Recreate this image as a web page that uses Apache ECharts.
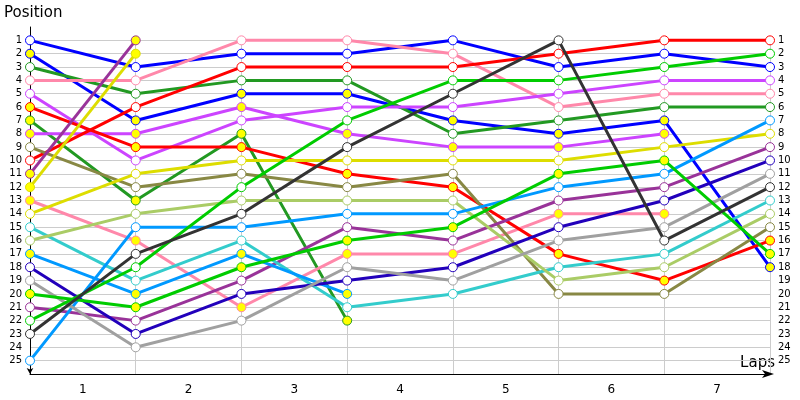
<!DOCTYPE html>
<html><head><meta charset="utf-8">
<script src="https://cdn.jsdelivr.net/npm/echarts@6/dist/echarts.min.js"></script>
<style>html,body{margin:0;padding:0;background:#fff}#c{width:800px;height:400px}</style>
</head><body><div id="c"></div>
<script>
// x positions (lap numbers) and tick labels
const laps = [0, 1, 2, 3, 4, 5, 6, 7];
const lapLabels = ['1', '2', '3', '4', '5', '6', '7'];
const positionLabels = ['1','2','3','4','5','6','7','8','9','10','11','12','13','14','15','16','17','18','19','20','21','22','23','24','25'];

// race position of each car at laps 0..7 (shorter arrays = retired)
const blueA      = [1, 3, 2, 2, 1, 3, 2, 3];
const blueB      = [2, 7, 5, 5, 7, 8, 7, 18];
const forestA    = [3, 5, 4, 4, 8, 7, 6, 6];
const forestB    = [7, 13, 8, 22];
const pinkA      = [4, 4, 1, 1, 2, 6, 5, 5];
const pinkB      = [13, 16, 21, 17, 17, 14, 14];
const violetA    = [5, 10, 7, 6, 6, 5, 4, 4];
const violetB    = [8, 8, 6, 8, 9, 9, 8];
const redA       = [10, 6, 3, 3, 3, 2, 1, 1];
const redB       = [6, 9, 9, 11, 12, 17, 19, 16];
const oliveA     = [9, 12, 11, 12, 11, 20, 20, 15];
const purpleB    = [11, 1];
const yellowB    = [12, 2];
const yellowA    = [14, 11, 10, 10, 10, 10, 9, 8];
const turquoiseA = [15, 19, 16, 21, 20, 18, 17, 13];
const limeA      = [16, 14, 13, 13, 13, 19, 18, 14];
const skyB       = [17, 20, 17, 20];
const skyA       = [25, 15, 15, 14, 14, 12, 11, 7];
const navyA      = [18, 23, 20, 19, 18, 15, 13, 10];
const greyA      = [19, 24, 22, 18, 19, 16, 15, 11];
const greenB     = [20, 21, 18, 16, 15, 11, 10, 17];
const greenA     = [22, 18, 12, 7, 4, 4, 3, 2];
const purpleA    = [21, 22, 19, 15, 16, 13, 12, 9];
const charcoalA  = [23, 17, 14, 9, 5, 1, 16, 12];

const WHITE = '#ffffff', YEL = '#ffff00';
const cars = [
  [blueA, '#0000ff', WHITE], [blueB, '#0000ff', YEL],
  [forestA, '#229922', WHITE], [forestB, '#229922', YEL],
  [pinkA, '#ff88aa', WHITE], [pinkB, '#ff88aa', YEL],
  [violetA, '#cc44ff', WHITE], [violetB, '#cc44ff', YEL],
  [redA, '#ff0000', WHITE], [redB, '#ff0000', YEL],
  [oliveA, '#888844', WHITE],
  [purpleB, '#993399', YEL], [purpleA, '#993399', WHITE],
  [yellowB, '#dddd00', YEL], [yellowA, '#dddd00', WHITE],
  [turquoiseA, '#33cccc', WHITE], [limeA, '#aacc66', WHITE],
  [skyB, '#0099ff', YEL], [skyA, '#0099ff', WHITE],
  [navyA, '#2200bb', WHITE], [greyA, '#a0a0a0', WHITE],
  [greenB, '#00cc00', YEL], [greenA, '#00cc00', WHITE],
  [charcoalA, '#333333', WHITE]
];

const yCats = [''].concat(positionLabels, ['']);
const FONT = 'DejaVu Sans';

const series = cars.map(([arr, col, fill]) => ({
  type: 'line',
  xAxisIndex: 0, yAxisIndex: 0,
  data: arr.map((p, i) => [laps[i], p]),
  symbol: 'circle', symbolSize: 9, showAllSymbol: true,
  lineStyle: { color: col, width: 3 },
  itemStyle: { color: fill, borderColor: col, borderWidth: 1 },
  emphasis: { disabled: true },
  silent: true
}));

const chart = echarts.init(document.getElementById('c'));
chart.setOption({
  animation: false,
  backgroundColor: '#fff',
  grid: [
    { left: 30, right: 30, top: 27, bottom: 26 },
    { left: 30, right: 30, top: 40, bottom: 26 }
  ],
  xAxis: [
    { type: 'value', gridIndex: 0, min: 0, max: 7, interval: 1,
      axisLine: { show: true, lineStyle: { color: '#000', width: 1 }, symbol: ['none', 'arrow'], symbolSize: [6, 12], symbolOffset: [0, 4] },
      axisTick: { show: false }, axisLabel: { show: false }, splitLine: { show: false } },
    { type: 'category', gridIndex: 0, data: lapLabels, boundaryGap: true, position: 'bottom',
      axisLine: { show: false }, axisTick: { show: false }, splitLine: { show: false },
      axisLabel: { fontFamily: FONT, fontSize: 12, color: '#000', margin: 10 } },
    { type: 'value', gridIndex: 1, min: 0, max: 7, interval: 1,
      axisLine: { show: false }, axisTick: { show: false }, axisLabel: { show: false },
      splitLine: { show: true, lineStyle: { color: '#cccccc', width: 1 } } }
  ],
  yAxis: [
    { type: 'category', gridIndex: 0, data: yCats, inverse: true, boundaryGap: false,
      axisLine: { show: true, lineStyle: { color: '#000', width: 1 }, symbol: ['arrow', 'none'], symbolSize: [5, 6] },
      axisTick: { show: false },
      axisLabel: { fontFamily: FONT, fontSize: 10, color: '#000', margin: 8, interval: 0 },
      splitLine: { show: true, interval: (i) => i > 0 && i < yCats.length - 1, lineStyle: { color: '#cccccc', width: 1 } } },
    { type: 'category', gridIndex: 0, data: yCats, inverse: true, boundaryGap: false, position: 'right',
      axisLine: { show: false }, axisTick: { show: false }, splitLine: { show: false },
      axisLabel: { fontFamily: FONT, fontSize: 10, color: '#000', margin: 8, interval: 0 } },
    { type: 'value', gridIndex: 1, show: false, min: 0, max: 1 }
  ],
  graphic: [
    { type: 'text', left: 4, top: 6, style: { text: 'Position', font: '15px "DejaVu Sans"', fill: '#000' } },
    { type: 'text', right: 25, top: 356, style: { text: 'Laps', font: '15px "DejaVu Sans"', fill: '#000' } }
  ],
  series: series
});
</script>
</body></html>
